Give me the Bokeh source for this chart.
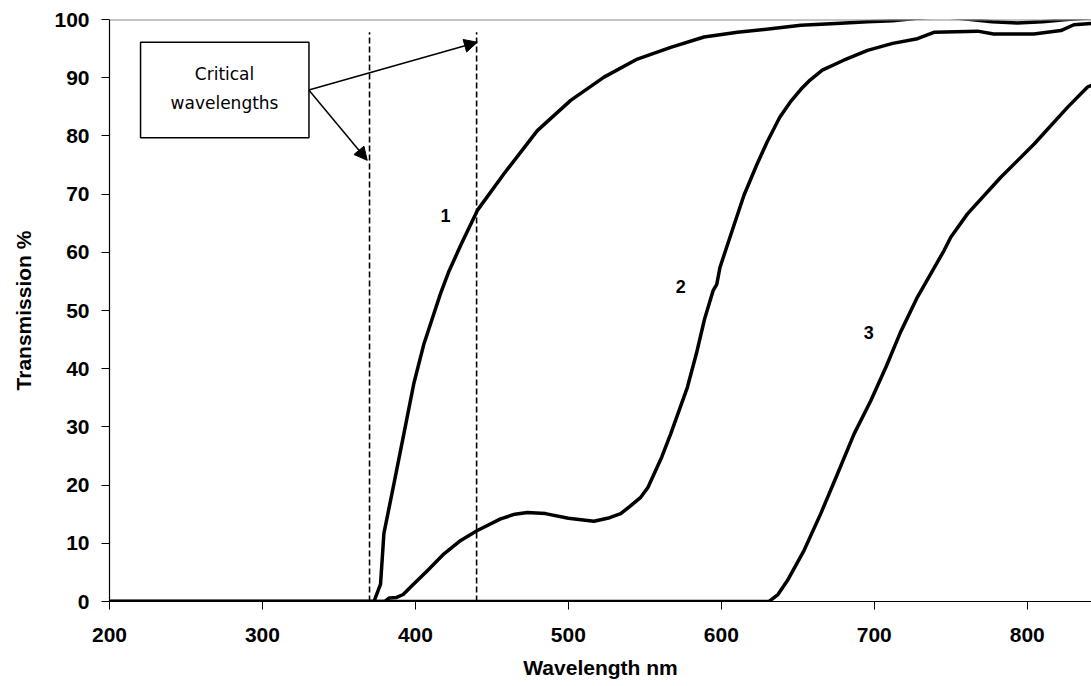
from bokeh.plotting import figure
from bokeh.models import (Range1d, FixedTicker, Span, BoxAnnotation, Arrow, NormalHead,
                          Label, ColumnDataSource)
from bokeh.core.properties import value
from bokeh.embed import file_html
from bokeh.resources import INLINE

# ---- data ----
wl1 = [200, 372.9, 377.2, 379.4, 386, 392.5, 399, 405.6, 410.5, 416.4, 422, 429.6, 440.5,
       457.9, 479.7, 501.5, 523.3, 545.1, 566.9, 588.7, 610.5, 632.3, 652, 675, 695.6,
       712, 728, 745, 760, 777, 793.6, 810, 826, 842]
t1 = [0, 0, 3, 11.7, 20.3, 28.9, 37.5, 44.3, 48.2, 52.9, 56.8, 61.2, 67.2,
      73.5, 80.9, 86.1, 90.1, 93.2, 95.2, 97.0, 97.8, 98.4, 99.0, 99.3, 99.6,
      99.8, 100.2, 100.5, 100.1, 99.6, 99.4, 99.6, 100.0, 100.3]

wl2 = [200, 380, 383, 387.7, 392, 396.9, 407.8, 418.7, 429.6, 440.5, 455.7, 465,
       473.2, 485, 500, 516.7, 527, 534.2, 540, 547.3, 552, 556, 561, 566.9, 577.8,
       583.7, 589, 594.6, 597, 599.1, 607.8, 614.8, 623.1, 630, 638.2, 645, 652, 658,
       666, 680, 695.6, 712, 728.2, 739, 767.5, 778, 804.3, 822, 830.5, 842]
t2 = [0, 0, 0.6, 0.7, 1.2, 2.5, 5.3, 8.2, 10.5, 12.2, 14.2, 15.0,
      15.3, 15.1, 14.3, 13.8, 14.4, 15.1, 16.3, 17.9, 19.6, 21.9, 24.8, 28.8, 36.8,
      42.6, 48.5, 53.4, 54.5, 57.4, 64.3, 69.8, 75.0, 79.0, 83.2, 85.8, 88.0, 89.6,
      91.3, 93.0, 94.7, 95.9, 96.7, 97.8, 98.0, 97.5, 97.5, 98.1, 99.1, 99.3]

wl3 = [200, 631.2, 637, 643.2, 654.1, 665, 675.9, 686.8, 697.7, 708, 717, 728.2,
       745.6, 750, 760.9, 782.7, 804.5, 826.3, 839.4, 842]
t3 = [0, 0, 1.2, 3.6, 8.8, 15.1, 21.9, 28.8, 34.5, 40.5, 46.2, 52.3,
      60.3, 62.6, 66.6, 72.9, 78.6, 84.9, 88.4, 88.7]

critical_wl = [370, 440]
critical_top = [97.8, 97.8]

curve_labels = ["1", "2", "3"]
curve_label_x = [419.7, 573.4, 696.4]
curve_label_y = [66.3, 54.1, 46.2]

x_ticks = [200, 300, 400, 500, 600, 700, 800]
y_ticks = [0, 10, 20, 30, 40, 50, 60, 70, 80, 90, 100]

# ---- figure ----
p = figure(width=1091, height=686, output_backend="svg", toolbar_location=None,
           x_range=Range1d(200, 842), y_range=Range1d(0, 100),
           min_border_left=109, min_border_right=0, min_border_top=19, min_border_bottom=85)
p.outline_line_color = None
p.xgrid.visible = False
p.ygrid.visible = False
p.background_fill_color = "white"
p.border_fill_color = "white"

FONT = "Liberation Sans"
for ax in (p.xaxis[0], p.yaxis[0]):
    ax.axis_line_color = "black"
    ax.axis_line_width = 1.2
    ax.major_tick_line_color = "black"
    ax.major_tick_line_width = 1
    ax.major_tick_out = 8
    ax.major_tick_in = 0
    ax.minor_tick_line_color = None
    ax.major_label_text_font = FONT
    ax.major_label_text_font_style = "bold"
    ax.major_label_text_font_size = "21px"
    ax.major_label_text_color = "black"
    ax.axis_label_text_font = FONT
    ax.axis_label_text_font_style = "bold"
    ax.axis_label_text_font_size = "21px"
    ax.axis_label_text_color = "black"

p.xaxis[0].ticker = FixedTicker(ticks=x_ticks)
p.yaxis[0].ticker = FixedTicker(ticks=y_ticks)
p.xaxis[0].axis_label = "Wavelength nm"
p.yaxis[0].axis_label = "Transmission %"
p.xaxis[0].major_label_standoff = 18
p.yaxis[0].major_label_standoff = 12
p.xaxis[0].axis_label_standoff = 11
p.yaxis[0].axis_label_standoff = 16

# top border of plot area
p.add_layout(Span(location=100, dimension="width", line_color="#8c8c8c", line_width=2))

# critical wavelength dashed lines
p.segment(x0=critical_wl, y0=[0, 0], x1=critical_wl, y1=critical_top,
          line_color="black", line_width=1.6, line_dash="6 3")

# curves
for wl, t in ((wl1, t1), (wl2, t2), (wl3, t3)):
    p.line(wl, t, line_color="black", line_width=3.5, line_join="round", line_cap="round")

# curve labels
src = ColumnDataSource(dict(x=curve_label_x, y=curve_label_y, t=curve_labels))
p.text(x="x", y="y", text="t", source=src, text_font=value(FONT), text_font_style="bold",
       text_font_size="18px", text_align="center", text_baseline="middle", text_color="black")

# annotation box
p.add_layout(BoxAnnotation(left=220.3, right=330.4, bottom=79.7, top=96.1,
                           fill_color="white", fill_alpha=1.0,
                           line_color="black", line_alpha=1.0, line_width=1.5))
p.add_layout(Label(x=275.2, y=90.7, text="Critical", text_font="DejaVu Sans",
                   text_font_size="17px", text_align="center", text_baseline="middle",
                   text_color="black"))
p.add_layout(Label(x=275.2, y=85.6, text="wavelengths", text_font="DejaVu Sans",
                   text_font_size="17px", text_align="center", text_baseline="middle",
                   text_color="black"))

# arrows
for xe, ye in ((440.5, 96.1), (368.5, 75.8)):
    p.add_layout(Arrow(end=NormalHead(size=13, fill_color="black", line_color="black"),
                       x_start=330.3, y_start=87.9, x_end=xe, y_end=ye,
                       line_color="black", line_width=1.5))

open("out.html", "w").write(file_html(p, INLINE))
